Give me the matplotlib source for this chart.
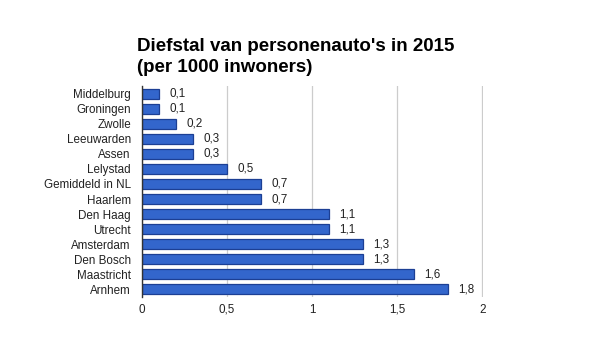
import matplotlib.pyplot as plt

plt.rcParams['font.family'] = 'Liberation Sans'

steden = ["Middelburg", "Groningen", "Zwolle", "Leeuwarden", "Assen", "Lelystad",
          "Gemiddeld in NL", "Haarlem", "Den Haag", "Utrecht", "Amsterdam",
          "Den Bosch", "Maastricht", "Arnhem"]
diefstallen = [0.1, 0.1, 0.2, 0.3, 0.3, 0.5, 0.7, 0.7, 1.1, 1.1, 1.3, 1.3, 1.6, 1.8]
xticks = [0, 0.5, 1, 1.5, 2]
xlabels = ["0", "0,5", "1", "1,5", "2"]

fig = plt.figure(figsize=(6, 3.5), dpi=100)
ax = fig.add_axes([142 / 600, 1 - 297 / 350, 341 / 600, 211 / 350])

y = list(range(len(steden)))
ax.barh(y, diefstallen, height=0.66, color="#3366cc", edgecolor="#1c3f94",
        linewidth=0.9, zorder=3)
for yi, v in zip(y, diefstallen):
    ax.text(v + 0.06, yi, f"{v:.1f}".replace(".", ","), va="center", ha="left",
            fontsize=8.4, color="#222222")

ax.set_xlim(0, 2.005)
ax.set_ylim(len(steden) - 0.5, -0.5)
ax.set_yticks(y)
ax.set_yticklabels(steden, fontsize=8.4, color="#222222")
ax.set_xticks(xticks)
ax.set_xticklabels(xlabels, fontsize=8.4, color="#222222")
ax.tick_params(axis="x", length=0, pad=5)
ax.tick_params(axis="y", length=0, pad=8)

ax.grid(axis="x", color="#cccccc", linewidth=0.9, zorder=0)
for s in ["top", "right", "bottom"]:
    ax.spines[s].set_visible(False)
ax.spines["left"].set_color("#333333")
ax.spines["left"].set_linewidth(1)
ax.spines["left"].set_zorder(4)

fig.text(137 / 600, 1 - 57 / 350, "Diefstal van personenauto's in 2015\n(per 1000 inwoners)",
         fontsize=13.5, fontweight="bold", ha="left", va="center", linespacing=1.3)

fig.savefig("out.png", dpi=100)
